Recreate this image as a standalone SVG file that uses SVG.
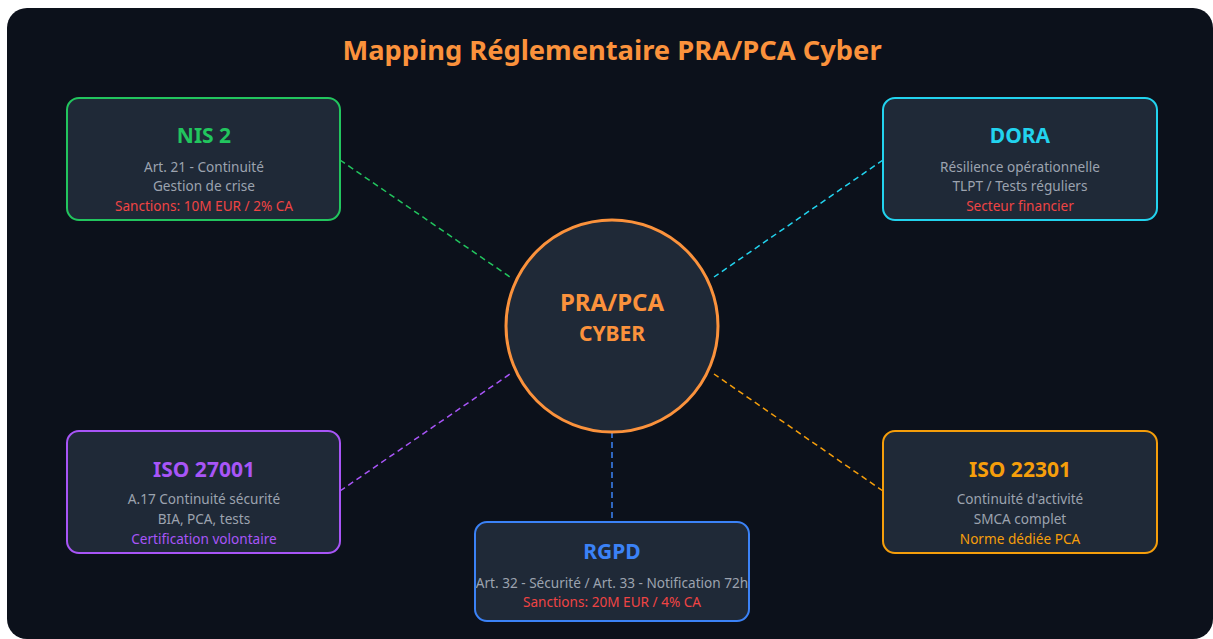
<svg xmlns="http://www.w3.org/2000/svg" width="1213" height="639" viewBox="0 0 1213 639">
<style>
text{font-family:"Noto Sans","Open Sans","DejaVu Sans",sans-serif;text-anchor:middle}
.box{fill:#1f2937;stroke-width:2}
.t{font-size:21px;font-weight:700}
.d{font-size:13.6px;fill:#9ca3af}
.red{font-size:13.6px;fill:#ef4444}
.c{fill:none;stroke-width:1.5;stroke-dasharray:6 4}
</style>
<rect x="0" y="0" width="1213" height="639" fill="#ffffff"/>
<rect x="7" y="8" width="1206" height="631" rx="20" fill="#0c111b"/>
<text x="612" y="60" font-size="27.3" font-weight="700" fill="#fb923c">Mapping Réglementaire PRA/PCA Cyber</text>
<g id="connectors">
<line class="c" x1="340" y1="160" x2="510" y2="277" stroke="#22c55e"/>
<line class="c" x1="883" y1="160" x2="714" y2="277" stroke="#22d3ee"/>
<line class="c" x1="340" y1="491" x2="510" y2="374" stroke="#a855f7"/>
<line class="c" x1="883" y1="491" x2="714" y2="374" stroke="#f59e0b"/>
<line class="c" x1="612" y1="432" x2="612" y2="522" stroke="#3b82f6"/>
</g>
<g id="center">
<circle cx="612" cy="326" r="106" fill="#1f2937" stroke="#fb923c" stroke-width="3"/>
<text x="612" y="311" font-size="24" font-weight="700" fill="#fb923c">PRA/PCA</text>
<text x="612" y="341" font-size="21" font-weight="700" fill="#fb923c">CYBER</text>
</g>
<g id="nis2">
<rect class="box" x="67" y="98" width="273" height="122" rx="12" stroke="#22c55e"/>
<text class="t" x="204" y="143" fill="#22c55e">NIS 2</text>
<text class="d" x="204" y="172">Art. 21 - Continuité</text>
<text class="d" x="204" y="191">Gestion de crise</text>
<text class="red" x="204" y="211">Sanctions: 10M EUR / 2% CA</text>
</g>
<g id="dora">
<rect class="box" x="883" y="98" width="274" height="122" rx="12" stroke="#22d3ee"/>
<text class="t" x="1020" y="143" fill="#22d3ee">DORA</text>
<text class="d" x="1020" y="172">Résilience opérationnelle</text>
<text class="d" x="1020" y="191">TLPT / Tests réguliers</text>
<text class="red" x="1020" y="211">Secteur financier</text>
</g>
<g id="iso27001">
<rect class="box" x="67" y="431" width="273" height="122" rx="12" stroke="#a855f7"/>
<text class="t" x="204" y="477" fill="#a855f7">ISO 27001</text>
<text class="d" x="204" y="504">A.17 Continuité sécurité</text>
<text class="d" x="204" y="524">BIA, PCA, tests</text>
<text class="d" x="204" y="544" style="fill:#a855f7">Certification volontaire</text>
</g>
<g id="iso22301">
<rect class="box" x="883" y="431" width="274" height="122" rx="12" stroke="#f59e0b"/>
<text class="t" x="1020" y="477" fill="#f59e0b">ISO 22301</text>
<text class="d" x="1020" y="504">Continuité d'activité</text>
<text class="d" x="1020" y="524">SMCA complet</text>
<text class="d" x="1020" y="544" style="fill:#f59e0b">Norme dédiée PCA</text>
</g>
<g id="rgpd">
<rect class="box" x="475" y="522" width="274" height="99" rx="12" stroke="#3b82f6"/>
<text class="t" x="612" y="559" fill="#3b82f6">RGPD</text>
<text class="d" x="612" y="588">Art. 32 - Sécurité / Art. 33 - Notification 72h</text>
<text class="red" x="612" y="607">Sanctions: 20M EUR / 4% CA</text>
</g>
</svg>
